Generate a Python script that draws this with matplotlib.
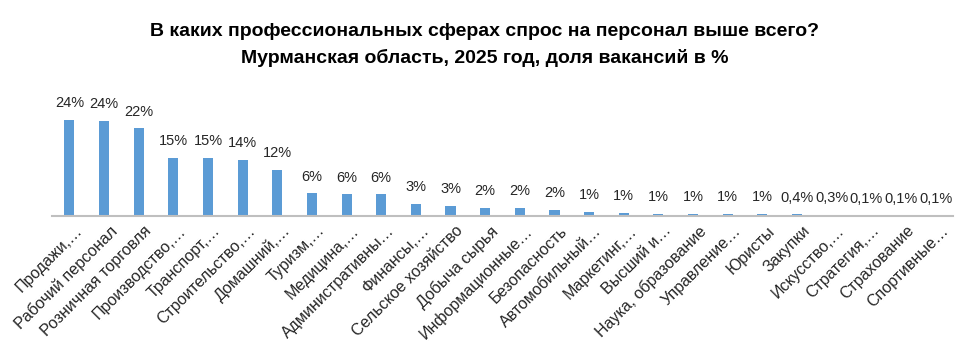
import matplotlib
matplotlib.use("Agg")
import matplotlib.pyplot as plt
import matplotlib.transforms as mtransforms
from matplotlib import font_manager
import numpy as np

categories = ["Продажи,…", "Рабочий персонал", "Розничная торговля", "Производство,…",
              "Транспорт,…", "Строительство,…", "Домашний,…", "Туризм,…", "Медицина,…",
              "Административны…", "Финансы,…", "Сельское хозяйство", "Добыча сырья",
              "Информационные…", "Безопасность", "Автомобильный…", "Маркетинг,…",
              "Высший и…", "Наука, образование", "Управление…", "Юристы", "Закупки",
              "Искусство,…", "Стратегия,…", "Страхование", "Спортивные…"]
values = [24.3, 24.0, 22.2, 14.7, 14.7, 14.2, 11.6, 5.7, 5.5, 5.5, 3.0, 2.5, 2.0, 2.0,
          1.5, 1.1, 0.8, 0.6, 0.6, 0.6, 0.6, 0.4, 0.3, 0.1, 0.1, 0.1]
value_labels = ["24%", "24%", "22%", "15%", "15%", "14%", "12%", "6%", "6%", "6%", "3%",
                "3%", "2%", "2%", "2%", "1%", "1%", "1%", "1%", "1%", "1%", "0,4%",
                "0,3%", "0,1%", "0,1%", "0,1%"]
title_lines = ["В каких профессиональных сферах спрос на персонал выше всего?",
               "Мурманская область, 2025 год, доля вакансий в %"]

plt.rcParams['font.family'] = ['Liberation Sans', 'DejaVu Sans']

installed = {f.name for f in font_manager.fontManager.ttflist}
if 'Liberation Sans Narrow' in installed:
    title_family = ['Liberation Sans Narrow', 'DejaVu Sans']
    title_size = 16
else:
    title_family = ['Liberation Sans', 'DejaVu Sans']
    title_size = 14

W, H = 977, 352
fig = plt.figure(figsize=(W / 100, H / 100), dpi=100)
left, right = 52, 953
top, base = 100, 216
ax = fig.add_axes([left / W, 1 - base / H, (right - left) / W, (base - top) / H])

x = np.arange(len(categories))
ax.bar(x, values, width=0.29, color="#5B9BD5", zorder=2)
ax.set_xlim(-0.5, len(categories) - 0.5)
ax.set_ylim(0, (base - top) / 3.95)

for xi, v, lab in zip(x, values, value_labels):
    ax.annotate(lab, (xi, v), xytext=(0, 7), textcoords="offset points",
                ha="center", va="bottom", fontsize=10.5, color="#262626")

for s in ["top", "right", "left"]:
    ax.spines[s].set_visible(False)
ax.spines["bottom"].set_color("#BFBFBF")
ax.spines["bottom"].set_linewidth(1.5)
ax.set_yticks([])
ax.set_xticks(x)
ax.set_xticklabels(categories, rotation=45, ha="right", va="top",
                   rotation_mode="anchor", fontsize=11.5, color="#262626")
ax.tick_params(axis="x", length=0, pad=5)
offset = mtransforms.ScaledTranslation(5 / 100, 0, fig.dpi_scale_trans)
for lbl in ax.get_xticklabels():
    lbl.set_transform(lbl.get_transform() + offset)

for ypix, line in zip([31, 58], title_lines):
    fig.text(485 / W, 1 - ypix / H, line, ha="center", va="center",
             fontsize=title_size, fontweight="bold", family=title_family,
             color="#000000")

fig.savefig("out.png", dpi=100)
